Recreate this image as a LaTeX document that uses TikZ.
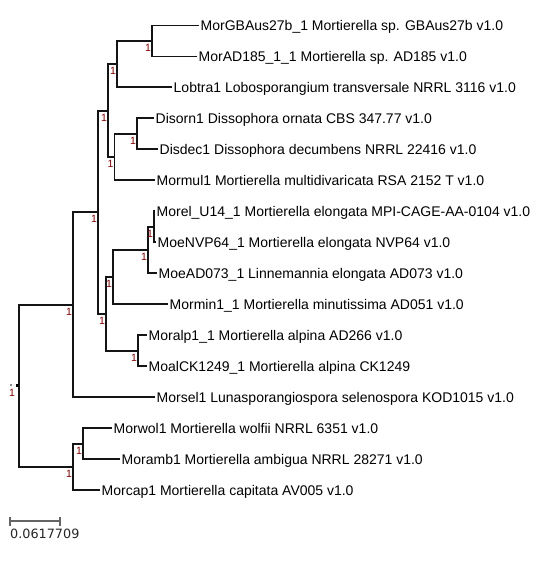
\documentclass[tikz,border=0pt]{standalone}
\usepackage{fontspec}
\setmainfont{Liberation Sans}
\newfontfamily\barfont{DejaVu Sans}
\definecolor{supred}{RGB}{128,0,0}
\definecolor{branchcol}{RGB}{20,20,20}
\definecolor{barcol}{RGB}{100,100,100}
\begin{document}
\begin{tikzpicture}[x=1pt,y=-1pt,
  br/.style={draw=branchcol, line width=1.9pt, line join=miter},
  leaf/.style={anchor=west, inner sep=0pt, xshift=1.5pt, text height=10pt, text depth=0pt, font=\fontsize{14}{15}\selectfont},
  suplab/.style={text=supred, inner sep=0pt, font=\fontsize{10.5}{11}\selectfont},
]
\useasboundingbox (0,0) rectangle (545,566);
% internal nodes
\coordinate (A) at (152,41);
\coordinate (B) at (117,64.2);
\coordinate (C) at (137,133.9);
\coordinate (D) at (114.5,157.2);
\coordinate (E) at (108,110.7);
\coordinate (J) at (154,226.8);
\coordinate (I) at (148,250.1);
\coordinate (H) at (113,277.1);
\coordinate (K) at (138,350.7);
\coordinate (G) at (106,313.9);
\coordinate (F) at (98,212.3);
\coordinate (L) at (73,304.7);
\coordinate (N) at (83,443.6);
\coordinate (M) at (73,466.9);
\coordinate (R) at (19,385.8);
% leaves
\coordinate (l1) at (199,25.5);
\coordinate (l2) at (197,56.5);
\coordinate (l3) at (172,87.4);
\coordinate (l4) at (154,118.4);
\coordinate (l5) at (158,149.4);
\coordinate (l6) at (155,180.4);
\coordinate (l7) at (155,211.3);
\coordinate (l8) at (156,242.3);
\coordinate (l9) at (157,273.3);
\coordinate (l10) at (168,304.2);
\coordinate (l11) at (147,335.2);
\coordinate (l12) at (147,366.2);
\coordinate (l13) at (155,397.1);
\coordinate (l14) at (112,428.1);
\coordinate (l15) at (120,459.1);
\coordinate (l16) at (100,490.1);
% branches
\draw[br] (A) |- (l1); \draw[br] (A) |- (l2);
\draw[br] (B) |- (A); \draw[br] (B) |- (l3);
\draw[br] (C) |- (l4); \draw[br] (C) |- (l5);
\draw[br] (D) |- (C); \draw[br] (D) |- (l6);
\draw[br] (E) |- (B); \draw[br] (E) |- (D);
\draw[br] (J) |- (l7); \draw[br] (J) |- (l8);
\draw[br] (I) |- (J); \draw[br] (I) |- (l9);
\draw[br] (H) |- (I); \draw[br] (H) |- (l10);
\draw[br] (K) |- (l11); \draw[br] (K) |- (l12);
\draw[br] (G) |- (H); \draw[br] (G) |- (K);
\draw[br] (F) |- (E); \draw[br] (F) |- (G);
\draw[br] (L) |- (F); \draw[br] (L) |- (l13);
\draw[br] (N) |- (l14); \draw[br] (N) |- (l15);
\draw[br] (M) |- (N); \draw[br] (M) |- (l16);
\draw[br] (R) |- (L); \draw[br] (R) |- (M);
% leaf labels
\node[leaf] (t1) at (l1) {MorGBAus27b\_1 Mortierella sp. GBAus27b v1.0};
\node[leaf] (t2) at (l2) {MorAD185\_1\_1 Mortierella sp. AD185 v1.0};
\node[leaf] (t3) at (l3) {Lobtra1 Lobosporangium transversale NRRL 3116 v1.0};
\node[leaf] (t4) at (l4) {Disorn1 Dissophora ornata CBS 347.77 v1.0};
\node[leaf] (t5) at (l5) {Disdec1 Dissophora decumbens NRRL 22416 v1.0};
\node[leaf] (t6) at (l6) {Mormul1 Mortierella multidivaricata RSA 2152 T v1.0};
\node[leaf] (t7) at (l7) {Morel\_U14\_1 Mortierella elongata MPI-CAGE-AA-0104 v1.0};
\node[leaf] (t8) at (l8) {MoeNVP64\_1 Mortierella elongata NVP64 v1.0};
\node[leaf] (t9) at (l9) {MoeAD073\_1 Linnemannia elongata AD073 v1.0};
\node[leaf] (t10) at (l10) {Mormin1\_1 Mortierella minutissima AD051 v1.0};
\node[leaf] (t11) at (l11) {Moralp1\_1 Mortierella alpina AD266 v1.0};
\node[leaf] (t12) at (l12) {MoalCK1249\_1 Mortierella alpina CK1249};
\node[leaf] (t13) at (l13) {Morsel1 Lunasporangiospora selenospora KOD1015 v1.0};
\node[leaf] (t14) at (l14) {Morwol1 Mortierella wolfii NRRL 6351 v1.0};
\node[leaf] (t15) at (l15) {Moramb1 Mortierella ambigua NRRL 28271 v1.0};
\node[leaf] (t16) at (l16) {Morcap1 Mortierella capitata AV005 v1.0};
% support values
\foreach \n in {A,B,C,D,E,J,I,H,K,G,F,L,N,M}{
  \path (\n) ++(-4,7) node[suplab] (s\n) {1};
}
\path (R) ++(-7,7) node[suplab] (sR) {1};
% root marker
\node[fill=black, inner sep=0pt, minimum size=3pt] (rootmark) at (17,385.8) {};
\node[fill=black!45, inner sep=0pt, minimum size=2pt] (rootdot) at (11,385) {};
% scale bar
\coordinate (sb1) at (10,521);
\coordinate (sb2) at (60,521);
\draw[barcol, line width=1.6pt] (sb1) -- (sb2);
\draw[barcol, line width=1.3pt] ([yshift=-4.5pt]sb1) -- ([yshift=4.5pt]sb1);
\draw[barcol, line width=1.3pt] ([yshift=-4.5pt]sb2) -- ([yshift=4.5pt]sb2);
\node[anchor=base west, inner sep=0pt, text=black!85, font=\barfont\fontsize{12.8}{13}\selectfont] (sblab) at (10,538.5) {0.0617709};
\end{tikzpicture}
\end{document}
